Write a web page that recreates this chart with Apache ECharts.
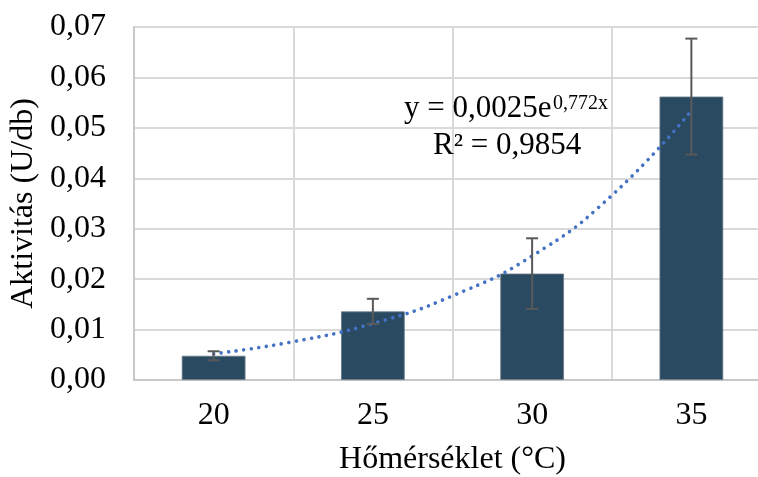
<!DOCTYPE html>
<html>
<head>
<meta charset="utf-8">
<script src="https://cdn.jsdelivr.net/npm/echarts@6/dist/echarts.min.js"></script>
<style>html,body{margin:0;padding:0;background:#fff}#c{width:758px;height:477px}</style>
</head>
<body>
<div id="c"></div>
<script>
var categories = ['20', '25', '30', '35'];
var barValues = [0.0048, 0.0136, 0.0211, 0.0562];
var errValues = [0.0009, 0.0025, 0.0070, 0.0115];
var trendX = [20, 22.5, 25, 27.5, 30, 32.5, 35];
var trendY = [0.0052, 0.0076, 0.0112, 0.0167, 0.0246, 0.0366, 0.0534];
var yTickLabels = ['0,00', '0,01', '0,02', '0,03', '0,04', '0,05', '0,06', '0,07'];

var FONT = '"Liberation Serif", "Times New Roman", serif';
var chart = echarts.init(document.getElementById('c'), null, {renderer: 'canvas'});

var errData = barValues.map(function (v, i) { return [i, v - errValues[i], v + errValues[i]]; });
var trendData = trendX.map(function (x, i) { return [x, trendY[i]]; });

chart.setOption({
  animation: false,
  backgroundColor: '#fff',
  grid: {left: 134, right: -13, top: 27, bottom: 97, containLabel: false, outerBoundsMode: 'none'},
  xAxis: [{
    type: 'category',
    data: categories,
    boundaryGap: true,
    name: 'Hőmérséklet (°C)',
    nameLocation: 'middle',
    nameGap: 64,
    nameTextStyle: {fontFamily: FONT, fontSize: 32, color: '#000'},
    axisLine: {show: true, lineStyle: {color: '#c8c8c8', width: 2}},
    axisTick: {show: false},
    axisLabel: {fontFamily: FONT, fontSize: 32, color: '#000', margin: 20},
    splitLine: {show: true, lineStyle: {color: '#d9d9d9', width: 2}}
  }, {
    type: 'value',
    min: 17.5,
    max: 37.5,
    show: false
  }],
  yAxis: {
    type: 'value',
    min: 0,
    max: 0.07,
    interval: 0.01,
    name: 'Aktivitás (U/db)',
    nameLocation: 'middle',
    nameGap: 90,
    nameTextStyle: {fontFamily: FONT, fontSize: 32, color: '#000'},
    axisLine: {show: true, lineStyle: {color: '#c8c8c8', width: 2}},
    axisTick: {show: false},
    axisLabel: {
      fontFamily: FONT, fontSize: 32, color: '#000', margin: 28,
      formatter: function (v) { return yTickLabels[Math.round(v / 0.01)]; }
    },
    splitLine: {show: true, lineStyle: {color: '#d9d9d9', width: 2}}
  },
  series: [{
    type: 'bar',
    data: barValues,
    barWidth: '40%',
    itemStyle: {color: '#2A4A62', borderColor: '#6b7b88', borderWidth: 0.8},
    z: 2
  }, {
    type: 'line',
    xAxisIndex: 1,
    data: trendData,
    smooth: true,
    showSymbol: false,
    symbol: 'none',
    lineStyle: {color: '#4472C4', width: 3.6, type: [0.01, 7.6], cap: 'round'},
    z: 4
  }, {
    type: 'custom',
    data: errData,
    z: 5,
    renderItem: function (params, api) {
      var lo = api.coord([api.value(0), api.value(1)]);
      var hi = api.coord([api.value(0), api.value(2)]);
      var hw = 6;
      var style = {stroke: '#595959', lineWidth: 2};
      return {
        type: 'group',
        children: [
          {type: 'line', shape: {x1: lo[0], y1: lo[1], x2: hi[0], y2: hi[1]}, style: style},
          {type: 'line', shape: {x1: lo[0] - hw, y1: lo[1], x2: lo[0] + hw, y2: lo[1]}, style: style},
          {type: 'line', shape: {x1: hi[0] - hw, y1: hi[1], x2: hi[0] + hw, y2: hi[1]}, style: style}
        ]
      };
    }
  }],
  graphic: [{
    type: 'text', left: 404, top: 93, z: 10,
    style: {text: 'y = 0,0025e', font: '31px ' + FONT, fill: '#000'}
  }, {
    type: 'text', left: 553, top: 94, z: 10,
    style: {text: '0,772x', font: '20px ' + FONT, fill: '#000'}
  }, {
    type: 'text', left: 433, top: 130, z: 10,
    style: {text: 'R² = 0,9854', font: '31px ' + FONT, fill: '#000'}
  }]
});
</script>
</body>
</html>
